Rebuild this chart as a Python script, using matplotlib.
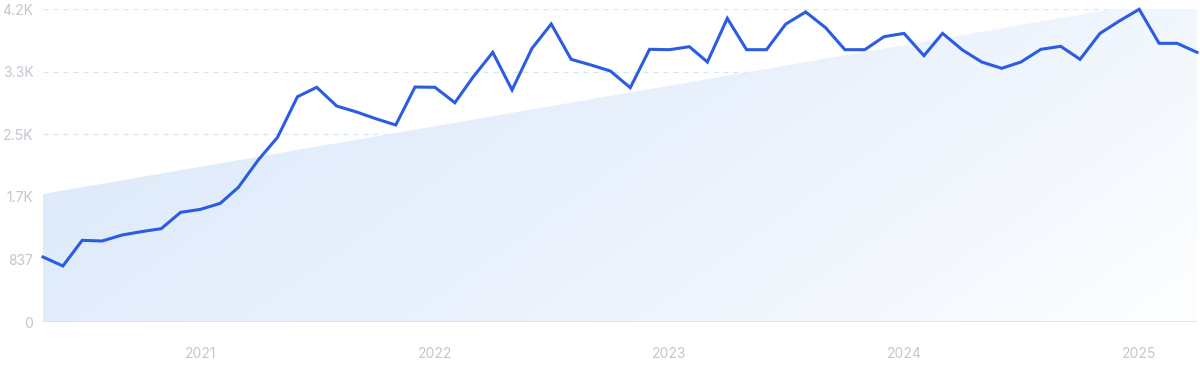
import numpy as np
import pandas as pd
import matplotlib
matplotlib.use("Agg")
import matplotlib.pyplot as plt
import matplotlib.dates as mdates
from matplotlib.colors import LinearSegmentedColormap

plt.rcParams['font.family'] = ['Inter', 'DejaVu Sans']

# monthly values, May 2020 .. Apr 2025
months = pd.date_range('2020-05-01', periods=60, freq='MS')
values = [
    869, 749, 1092, 1083, 1163, 1208, 1248, 1466,                      # 2020
    1506, 1587, 1800, 2166, 2469, 3012, 3138, 2888, 2808, 2718, 2634, 3142,  # 2021
    3138, 2932, 3271, 3606, 3102, 3659, 3984, 3512, 3436, 3356, 3133, 3646,  # 2022
    3641, 3681, 3476, 4060, 3641, 3641, 3984, 4145, 3935, 3641, 3641, 3815,  # 2023
    3859, 3561, 3859, 3637, 3476, 3392, 3476, 3646, 3686, 3512, 3859, 4024,  # 2024
    4181, 3726, 3726, 3606,                                            # 2025
]
trend_start = 1711
trend_end = 4380

y_ticks = [0, 837, 1674, 2511, 3348, 4185]
y_labels = ['0', '837', '1.7K', '2.5K', '3.3K', '4.2K']
year_ticks = ['2021', '2022', '2023', '2024', '2025']

fig = plt.figure(figsize=(12, 3.71), dpi=100)
ax = fig.add_axes([43 / 1200, 49 / 371, 1154 / 1200, 313 / 371])

x = mdates.date2num(months)
ymax = y_ticks[-1]
ax.set_xlim(x[0], x[-1])
ax.set_ylim(0, ymax)

# trend area with gradient
trend = np.array([trend_start, trend_end])
poly = ax.fill_between([x[0], x[-1]], 0, trend, color='none', lw=0)
gx, gy = np.meshgrid(np.linspace(0, 1, 300), np.linspace(1, 0, 100))
t = np.clip(0.8 * gx + 0.3 * (1 - gy) - 0.05, 0, 1)
cmap = LinearSegmentedColormap.from_list('g', ['#dce9fa', '#e9f1fc', '#fbfdff'])
img = ax.imshow(t, cmap=cmap, vmin=0, vmax=1, aspect='auto',
                extent=[x[0], x[-1], 0, ymax], origin='upper', zorder=1)
img.set_clip_path(poly.get_paths()[0], transform=ax.transData)

# grid
for v in y_ticks[1:]:
    ax.axhline(v, color='#d3e5f7', lw=0.9, ls=(0, (4, 4)), zorder=0.5)
ax.axhline(0, color='#cde5fa', lw=1.2, zorder=2)

ax.plot(x, values, color='#2b5ce2', lw=2.2, zorder=3, clip_on=False,
        solid_joinstyle='miter')

for s in ax.spines.values():
    s.set_visible(False)
ax.set_yticks(y_ticks)
ax.set_yticklabels(y_labels)
ax.set_xticks([mdates.date2num(pd.Timestamp(y + '-01-01')) for y in year_ticks])
ax.set_xticklabels(year_ticks)
ax.tick_params(axis='both', length=0, colors='#c4c6cf', labelsize=10)
ax.tick_params(axis='y', pad=7)
ax.tick_params(axis='x', pad=18)

fig.savefig('out.png', dpi=100, facecolor='white')
